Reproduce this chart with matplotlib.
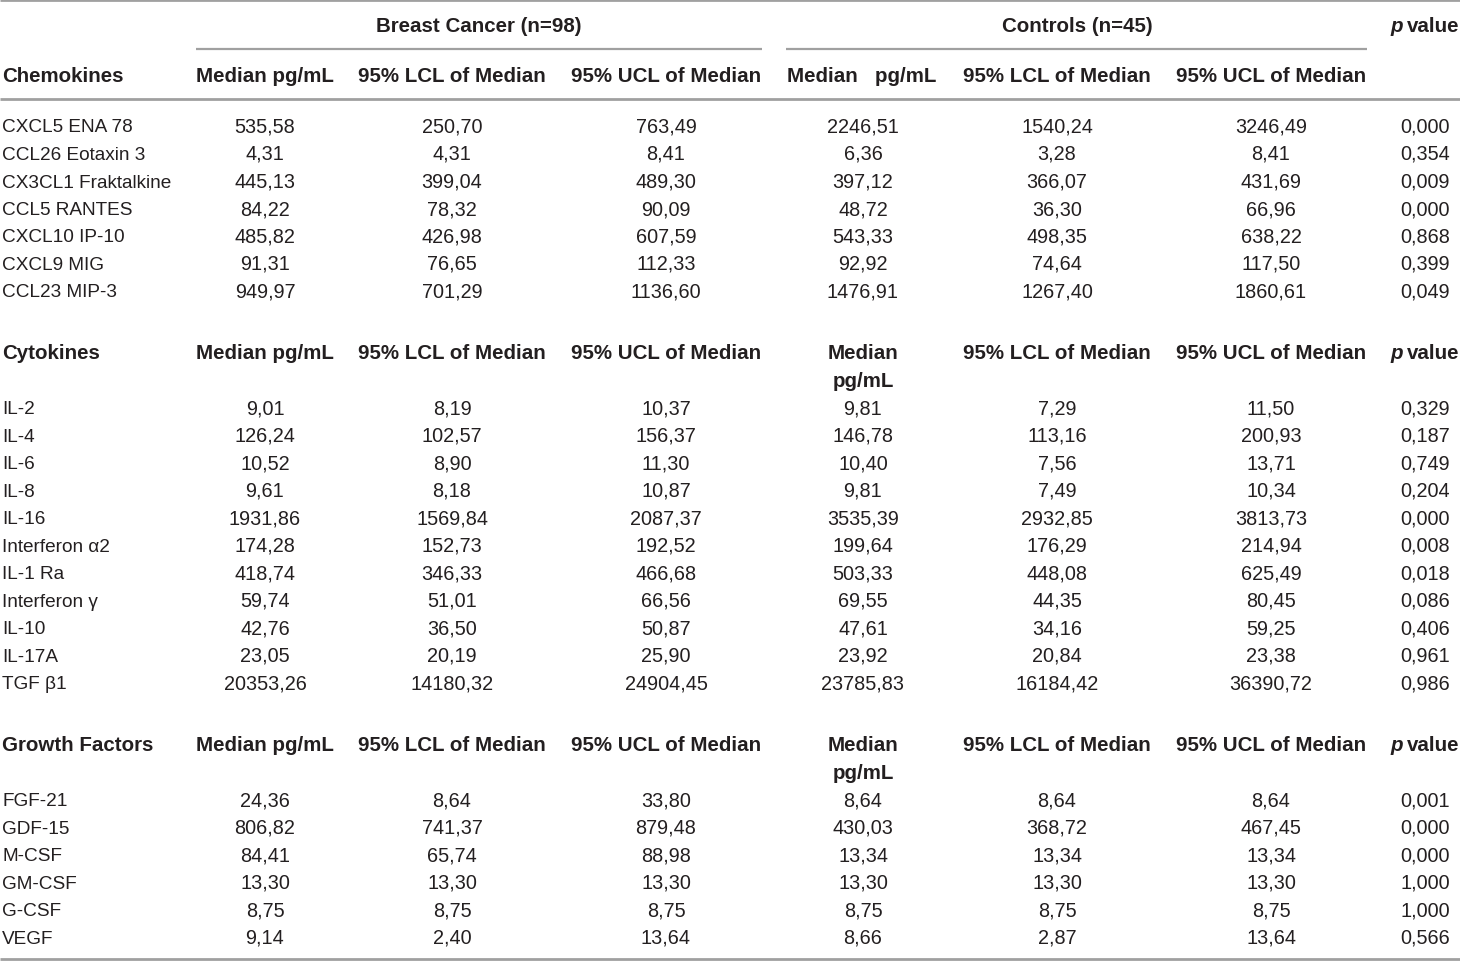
import matplotlib
matplotlib.use("Agg")
import matplotlib.pyplot as plt

plt.rcParams["font.family"] = ["Liberation Sans", "DejaVu Sans"]

# ---------------- data ----------------
group_titles = ["Breast Cancer (n=98)", "Controls (n=45)"]
col_headers = ["Median pg/mL", "95% LCL of Median", "95% UCL of Median",
               "Median pg/mL", "95% LCL of Median", "95% UCL of Median", "p value"]

chemokines = ["CXCL5 ENA 78", "CCL26 Eotaxin 3", "CX3CL1 Fraktalkine", "CCL5 RANTES",
              "CXCL10 IP-10", "CXCL9 MIG", "CCL23 MIP-3"]
chemo_bc_med = ["535,58", "4,31", "445,13", "84,22", "485,82", "91,31", "949,97"]
chemo_bc_lcl = ["250,70", "4,31", "399,04", "78,32", "426,98", "76,65", "701,29"]
chemo_bc_ucl = ["763,49", "8,41", "489,30", "90,09", "607,59", "112,33", "1136,60"]
chemo_c_med = ["2246,51", "6,36", "397,12", "48,72", "543,33", "92,92", "1476,91"]
chemo_c_lcl = ["1540,24", "3,28", "366,07", "36,30", "498,35", "74,64", "1267,40"]
chemo_c_ucl = ["3246,49", "8,41", "431,69", "66,96", "638,22", "117,50", "1860,61"]
chemo_p = ["0,000", "0,354", "0,009", "0,000", "0,868", "0,399", "0,049"]

cytokines = ["IL-2", "IL-4", "IL-6", "IL-8", "IL-16", "Interferon α2", "IL-1 Ra",
             "Interferon γ", "IL-10", "IL-17A", "TGF β1"]
cyto_bc_med = ["9,01", "126,24", "10,52", "9,61", "1931,86", "174,28", "418,74", "59,74", "42,76", "23,05", "20353,26"]
cyto_bc_lcl = ["8,19", "102,57", "8,90", "8,18", "1569,84", "152,73", "346,33", "51,01", "36,50", "20,19", "14180,32"]
cyto_bc_ucl = ["10,37", "156,37", "11,30", "10,87", "2087,37", "192,52", "466,68", "66,56", "50,87", "25,90", "24904,45"]
cyto_c_med = ["9,81", "146,78", "10,40", "9,81", "3535,39", "199,64", "503,33", "69,55", "47,61", "23,92", "23785,83"]
cyto_c_lcl = ["7,29", "113,16", "7,56", "7,49", "2932,85", "176,29", "448,08", "44,35", "34,16", "20,84", "16184,42"]
cyto_c_ucl = ["11,50", "200,93", "13,71", "10,34", "3813,73", "214,94", "625,49", "80,45", "59,25", "23,38", "36390,72"]
cyto_p = ["0,329", "0,187", "0,749", "0,204", "0,000", "0,008", "0,018", "0,086", "0,406", "0,961", "0,986"]

growth = ["FGF-21", "GDF-15", "M-CSF", "GM-CSF", "G-CSF", "VEGF"]
gf_bc_med = ["24,36", "806,82", "84,41", "13,30", "8,75", "9,14"]
gf_bc_lcl = ["8,64", "741,37", "65,74", "13,30", "8,75", "2,40"]
gf_bc_ucl = ["33,80", "879,48", "88,98", "13,30", "8,75", "13,64"]
gf_c_med = ["8,64", "430,03", "13,34", "13,30", "8,75", "8,66"]
gf_c_lcl = ["8,64", "368,72", "13,34", "13,30", "8,75", "2,87"]
gf_c_ucl = ["8,64", "467,45", "13,34", "13,30", "8,75", "13,64"]
gf_p = ["0,001", "0,000", "0,000", "1,000", "1,000", "0,566"]

# ---------------- layout ----------------
W, H = 1460, 962
fig = plt.figure(figsize=(W / 100, H / 100), dpi=100)
ax = fig.add_axes([0, 0, 1, 1])
ax.set_xlim(0, W)
ax.set_ylim(H, 0)
ax.axis("off")

TXT = "#231f20"
LINE = "#a0a0a0"
FS = 14.3
FSL = 13.7
FSB = 14.8
col_x = [265, 452, 666, 863, 1057, 1271, 1425]
label_x = 2
rowh = 27.5
BL = 6.5  # baseline offset from row centre

def bold(x, y, s, ha="center"):
    ax.text(x, y + BL, s, ha=ha, va="baseline", fontsize=FSB, fontweight="bold", color=TXT)

def norm(x, y, s, ha="center", fs=FS):
    ax.text(x, y + BL, s, ha=ha, va="baseline", fontsize=fs, color=TXT)

def pval_header(y):
    ax.text(1390, y + BL, "p", ha="left", va="baseline", fontsize=FSB,
            fontweight="bold", style="italic", color=TXT)
    ax.text(1459, y + BL, "value", ha="right", va="baseline", fontsize=FSB,
            fontweight="bold", color=TXT)

# rules
ax.hlines(1, 0, W, color=LINE, lw=2)
ax.hlines(50, 196, 762, color=LINE, lw=1.6)
ax.hlines(50, 786, 1367, color=LINE, lw=1.6)
ax.hlines(100, 0, W, color=LINE, lw=2)
ax.hlines(960, 0, W, color=LINE, lw=2)

# group titles
bold(479, 26, group_titles[0])
bold(1077, 26, group_titles[1])
pval_header(26)

def section(title, y_head, two_line, names_, cols, p_header):
    bold(label_x, y_head, title, ha="left")
    for i in range(3):
        bold(col_x[i], y_head, col_headers[i])
    if two_line:
        bold(col_x[3], y_head, "Median")
        bold(col_x[3], y_head + 28, "pg/mL")
    else:
        ax.text(787, y_head + BL, "Median   pg/mL", ha="left", va="baseline", fontsize=FSB,
                fontweight="bold", color=TXT)
    bold(col_x[4], y_head, col_headers[4])
    bold(col_x[5], y_head, col_headers[5])
    if p_header:
        pval_header(y_head)
    y0 = y_head + (55 if two_line else 50)
    for r, nm in enumerate(names_):
        y = y0 + r * rowh
        norm(label_x, y, nm, ha="left", fs=FSL)
        for c, arr in enumerate(cols):
            norm(col_x[c], y, arr[r])

section("Chemokines", 76, False, chemokines,
        [chemo_bc_med, chemo_bc_lcl, chemo_bc_ucl, chemo_c_med, chemo_c_lcl, chemo_c_ucl, chemo_p], False)
section("Cytokines", 353, True, cytokines,
        [cyto_bc_med, cyto_bc_lcl, cyto_bc_ucl, cyto_c_med, cyto_c_lcl, cyto_c_ucl, cyto_p], True)
section("Growth Factors", 745, True, growth,
        [gf_bc_med, gf_bc_lcl, gf_bc_ucl, gf_c_med, gf_c_lcl, gf_c_ucl, gf_p], True)

fig.savefig("out.png", dpi=100)
